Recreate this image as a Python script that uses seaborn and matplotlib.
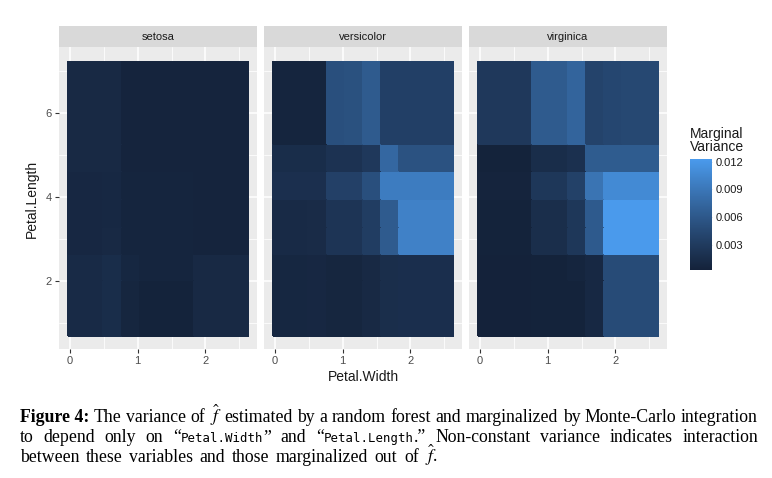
"""Marginal variance of a random forest over Petal.Width x Petal.Length, faceted by species."""
import matplotlib
matplotlib.use("Agg")
import matplotlib.pyplot as plt
import numpy as np
import pandas as pd
import seaborn as sns
from matplotlib.colors import ListedColormap, Normalize
from matplotlib.patches import Rectangle

W, H = 772, 478

SPECIES = ["setosa", "versicolor", "virginica"]
X_EDGES = [-0.03, 0.49, 0.77, 1.03, 1.30, 1.57, 1.83, 2.10, 2.63]   # Petal.Width
Y_EDGES = [0.685, 2.02, 2.64, 3.29, 3.96, 4.62, 5.27, 7.23]         # Petal.Length

# rows go bottom -> top (low Petal.Length first), columns left -> right
SETOSA = [
    [0.0012, 0.0015, 0.0007, 0.0004, 0.0004, 0.0004, 0.0011, 0.0011],
    [0.0012, 0.0015, 0.0008, 0.0006, 0.0006, 0.0006, 0.0011, 0.0011],
    [0.0009, 0.0011, 0.0006, 0.0006, 0.0006, 0.0006, 0.0005, 0.0005],
    [0.0009, 0.0010, 0.0006, 0.0006, 0.0006, 0.0006, 0.0005, 0.0005],
    [0.0009, 0.0010, 0.0006, 0.0006, 0.0006, 0.0006, 0.0005, 0.0005],
    [0.0011, 0.0011, 0.0005, 0.0005, 0.0005, 0.0005, 0.0005, 0.0005],
    [0.0011, 0.0011, 0.0005, 0.0005, 0.0005, 0.0005, 0.0005, 0.0005],
]
VERSICOLOR = [
    [0.0008, 0.0009, 0.0007, 0.0007, 0.0011, 0.0016, 0.0017, 0.0017],
    [0.0008, 0.0009, 0.0007, 0.0007, 0.0011, 0.0016, 0.0017, 0.0017],
    [0.0012, 0.0013, 0.0023, 0.0023, 0.0033, 0.0063, 0.0100, 0.0100],
    [0.0012, 0.0013, 0.0023, 0.0023, 0.0033, 0.0063, 0.0100, 0.0100],
    [0.0018, 0.0018, 0.0036, 0.0036, 0.0051, 0.0095, 0.0095, 0.0095],
    [0.0015, 0.0015, 0.0021, 0.0021, 0.0027, 0.0075, 0.0054, 0.0054],
    [0.0006, 0.0006, 0.0051, 0.0053, 0.0063, 0.0035, 0.0035, 0.0035],
]
VIRGINICA = [
    [0.00026, 0.00026, 0.0004, 0.0004, 0.0004, 0.0010, 0.0047, 0.0047],
    [0.00026, 0.00026, 0.0004, 0.0004, 0.0006, 0.0010, 0.0047, 0.0047],
    [0.0004, 0.0004, 0.0016, 0.0016, 0.0026, 0.0062, 0.01226, 0.01226],
    [0.0004, 0.0004, 0.0016, 0.0016, 0.0026, 0.0062, 0.01226, 0.01226],
    [0.0005, 0.0005, 0.0026, 0.0026, 0.0037, 0.0087, 0.0108, 0.0108],
    [0.0004, 0.0004, 0.0015, 0.0015, 0.0019, 0.0064, 0.0064, 0.0064],
    [0.0027, 0.0027, 0.0063, 0.0063, 0.0072, 0.0039, 0.0042, 0.0044],
]
CBAR_TICKS = [0.003, 0.006, 0.009, 0.012]
CBAR_LABELS = ["0.003", "0.006", "0.009", "0.012"]
LOW_COLOR, HIGH_COLOR = "#14223A", "#4A9AEC"

# --- two-colour gradient interpolated in CIELAB, like ggplot's scale_fill_gradient ---
_M = np.array([[0.4124564, 0.3575761, 0.1804375],
               [0.2126729, 0.7151522, 0.0721750],
               [0.0193339, 0.1191920, 0.9503041]])
_WHITE = np.array([0.95047, 1.0, 1.08883])[:, None]
_D = 6 / 29


def _to_lab(rgb):
    rgb = np.asarray(rgb, float).reshape(3, -1)
    lin = np.where(rgb <= 0.04045, rgb / 12.92, ((rgb + 0.055) / 1.055) ** 2.4)
    xyz = (_M @ lin) / _WHITE
    f = np.where(xyz > _D ** 3, np.cbrt(xyz), xyz / (3 * _D ** 2) + 4 / 29)
    return np.vstack([116 * f[1] - 16, 500 * (f[0] - f[1]), 200 * (f[1] - f[2])])


def _from_lab(lab):
    fy = (lab[0] + 16) / 116
    f = np.vstack([fy + lab[1] / 500, fy, fy - lab[2] / 200])
    xyz = np.where(f > _D, f ** 3, 3 * _D ** 2 * (f - 4 / 29)) * _WHITE
    lin = np.clip(np.linalg.solve(_M, xyz), 0, None)
    rgb = np.where(lin <= 0.0031308, 12.92 * lin, 1.055 * lin ** (1 / 2.4) - 0.055)
    return np.clip(rgb, 0, 1).T


lo = _to_lab(matplotlib.colors.to_rgb(LOW_COLOR))
hi = _to_lab(matplotlib.colors.to_rgb(HIGH_COLOR))
tt = np.linspace(0, 1, 256)
CMAP = ListedColormap(_from_lab(lo + (hi - lo) * tt))

all_vals = np.concatenate([np.ravel(SETOSA), np.ravel(VERSICOLOR), np.ravel(VIRGINICA)])
NORM = Normalize(vmin=all_vals.min(), vmax=all_vals.max())

# long table for the facet grid
rows = []
for sp, grid in zip(SPECIES, [SETOSA, VERSICOLOR, VIRGINICA]):
    for r, line in enumerate(grid):
        for c, v in enumerate(line):
            rows.append({"Species": sp, "row": r, "col": c, "variance": v})
df = pd.DataFrame(rows)


def draw_tiles(data, **kws):
    ax = plt.gca()
    z = data.pivot(index="row", columns="col", values="variance").to_numpy()
    ax.pcolormesh(X_EDGES, Y_EDGES, z, cmap=CMAP, norm=NORM, shading="flat",
                  edgecolor="face", linewidth=0.2)


sns.set_theme(style="darkgrid", rc={
    "axes.facecolor": "#EBEBEB",
    "grid.color": "white",
    "figure.facecolor": "white",
})
plt.rcParams["font.family"] = ["Liberation Sans", "DejaVu Sans"]
plt.rcParams["mathtext.fontset"] = "stix"

g = sns.FacetGrid(df, col="Species", col_order=SPECIES, height=3, aspect=0.66,
                  sharex=True, sharey=True, despine=False)
g.map_dataframe(draw_tiles)
g.set_titles("")
g.set_axis_labels("", "")
fig = g.figure
fig.set_size_inches(W / 100, H / 100)
fig.set_dpi(100)

panel_h = 302
for i, (ax, sp) in enumerate(zip(g.axes.flat, SPECIES)):
    left = 59 + i * 205
    ax.set_position([left / W, 1 - 349.3 / H, 198 / W, panel_h / H])
    ax.set_xlim(-0.163, 2.763)
    ax.set_ylim(0.367, 7.575)
    ax.set_xticks([0, 1, 2])
    ax.set_xticklabels(["0", "1", "2"])
    ax.set_xticks([0.5, 1.5, 2.5], minor=True)
    ax.set_yticks([2, 4, 6])
    ax.set_yticklabels(["2", "4", "6"])
    ax.set_yticks([1, 3, 5, 7], minor=True)
    ax.grid(which="major", color="white", lw=1.1)
    ax.grid(which="minor", color="white", lw=0.55)
    ax.set_axisbelow(True)
    for s in ax.spines.values():
        s.set_visible(False)
    ax.tick_params(which="major", length=3, width=0.8, color="#333333",
                   labelsize=8, labelcolor="#4D4D4D", pad=2)
    ax.tick_params(which="minor", length=0)
    if i > 0:
        ax.tick_params(axis="y", left=False, labelleft=False)
    else:
        ax.tick_params(axis="y", left=True, labelleft=True)
    ax.tick_params(axis="x", bottom=True, labelbottom=True)
    # facet strip
    sh = 21.6 / panel_h
    ax.add_patch(Rectangle((0, 1), 1, sh, transform=ax.transAxes, clip_on=False,
                           facecolor="#D9D9D9", edgecolor="none"))
    ax.text(0.5, 1 + sh / 2, sp, transform=ax.transAxes, ha="center", va="center",
            fontsize=8, color="#1A1A1A")

fig.text(363 / W, 1 - 377 / H, "Petal.Width", ha="center", va="center",
         fontsize=10, color="#1A1A1A")
fig.text(31.5 / W, 1 - 199 / H, "Petal.Length", ha="center", va="center",
         rotation=90, fontsize=10, color="#1A1A1A")

# colour bar legend
cax = fig.add_axes([690 / W, 1 - 270 / H, 21.7 / W, 110.7 / H])
sm = plt.cm.ScalarMappable(norm=NORM, cmap=CMAP)
cb = fig.colorbar(sm, cax=cax, ticks=CBAR_TICKS)
cb.outline.set_visible(False)
cb.ax.set_yticklabels(CBAR_LABELS)
cb.ax.minorticks_off()
cb.ax.grid(False)
cb.ax.tick_params(axis="y", direction="in", length=4.3, width=0.7, colors="#E0E0E0",
                  left=True, right=True, labelsize=8, labelcolor="#1A1A1A", pad=3)
fig.text(690 / W, 1 - 127 / H, "Marginal\nVariance", ha="left", va="top",
         fontsize=10, color="#1A1A1A", linespacing=0.95)

# caption under the figure
renderer = fig.canvas.get_renderer()
SERIF = dict(family=["Liberation Serif", "DejaVu Serif"], size=12.8, color="black")
BOLD = dict(SERIF, weight="bold")
MONO = dict(family=["DejaVu Sans Mono"], size=8.9, color="black")
FHAT = r"$\hat{f}$"


def advance(s, style):
    """Width of s in pixels; plain text via 'HsH' minus 'HH', math via its own box."""
    if "$" in s:
        t = fig.text(0, 0, s, **style)
        w = t.get_window_extent(renderer).width - (2.5 if s.endswith("$") else 0.0)
        t.remove()
        return w
    t = fig.text(0, 0, "H" + s + "H", **style)
    w1 = t.get_window_extent(renderer).width
    t.set_text("HH")
    w0 = t.get_window_extent(renderer).width
    t.remove()
    return w1 - w0


def words(text, style=SERIF):
    return [[(w, style)] for w in text.split(" ")]


def caption_line(ws, y_px, x0=20, x1=None, gap=None):
    widths = [[advance(s, st) for s, st in w] for w in ws]
    total = sum(sum(ww) for ww in widths)
    if x1 is not None:
        gap = (x1 - x0 - total) / (len(ws) - 1)
    x = x0
    for w, ww in zip(ws, widths):
        for (s, st), pw in zip(w, ww):
            fig.text(x / W, 1 - y_px / H, s, va="baseline", ha="left", **st)
            x += pw
        x += gap
    return gap


line1 = ([[("Figure 4:", BOLD)]] + words("The variance of") + [[(FHAT, SERIF)]]
         + words("estimated by a random forest and marginalized by Monte-Carlo integration"))
line2 = (words("to depend only on")
         + [[("\u201c", SERIF), ("Petal.Width", MONO), ("\u201d", SERIF)]]
         + words("and")
         + [[("\u201c", SERIF), ("Petal.Length", MONO), (".\u201d", SERIF)]]
         + words("Non-constant variance indicates interaction"))
line3 = (words("between these variables and those marginalized out of")
         + [[(FHAT + ".", SERIF)]])

caption_line(line1, 422, x1=758)
caption_line(line2, 442, x1=758)
caption_line(line3, 462, x1=438)

fig.savefig("out.png", dpi=100)
